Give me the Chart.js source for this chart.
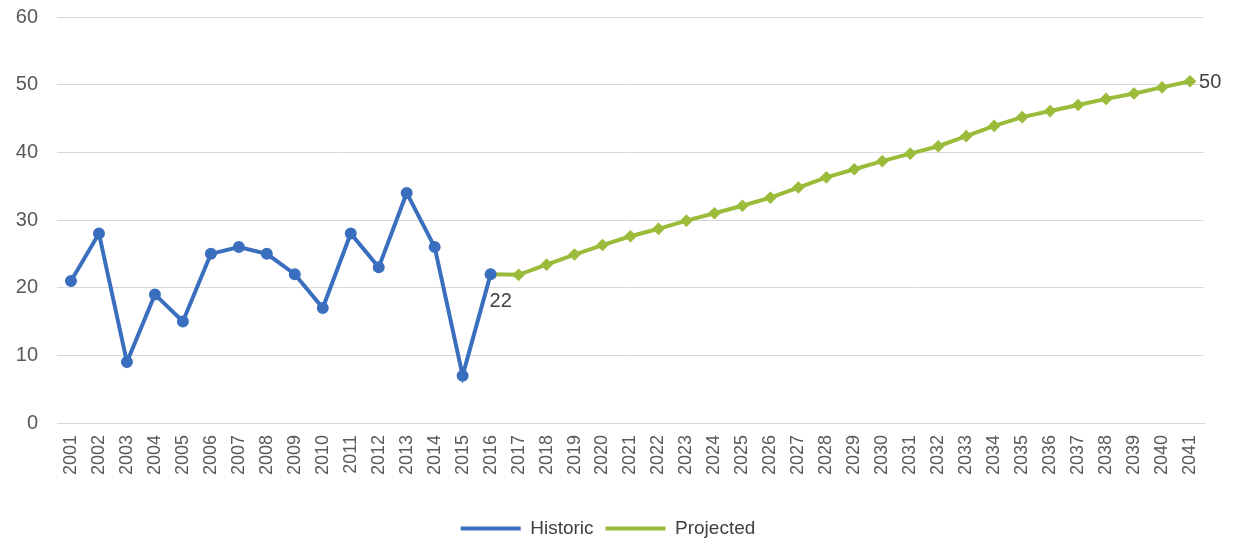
<!DOCTYPE html>
<html>
<head>
<meta charset="utf-8">
<script src="https://cdn.jsdelivr.net/npm/chart.js@4/dist/chart.umd.min.js"></script>
<style>
  html, body { margin: 0; padding: 0; background: #fff; }
  #wrap { width: 1233px; height: 558px; position: relative; }
</style>
</head>
<body>
<div id="wrap"><canvas id="grafico"></canvas></div>
<script>
let ctx = document.getElementById('grafico')

// anos 2001 - 2041
const years = ['2001','2002','2003','2004','2005','2006','2007','2008','2009','2010',
  '2011','2012','2013','2014','2015','2016','2017','2018','2019','2020',
  '2021','2022','2023','2024','2025','2026','2027','2028','2029','2030',
  '2031','2032','2033','2034','2035','2036','2037','2038','2039','2040','2041']

const historic = [21, 28, 9, 19, 15, 25, 26, 25, 22, 17, 28, 23, 34, 26, 7, 22]

// projeção começa em 2016
const projected = [22, 21.9, 23.4, 24.9, 26.3, 27.6, 28.7, 29.9, 31.0, 32.1,
  33.3, 34.8, 36.3, 37.5, 38.7, 39.8, 40.9, 42.4, 43.9, 45.2,
  46.1, 47.0, 47.9, 48.7, 49.6, 50.5]

const yTicks = [0, 10, 20, 30, 40, 50, 60]

const histData = years.map((y, i) => i < historic.length ? historic[i] : null)
const projStart = years.indexOf('2016')
const projData = years.map((y, i) => i >= projStart ? projected[i - projStart] : null)

Chart.defaults.font.family = '"Liberation Sans", Arial, sans-serif'
Chart.defaults.color = '#595959'

// rótulos "22" e "50"
const valueLabels = {
  id: 'valueLabels',
  afterDatasetsDraw(chart) {
    const c = chart.ctx
    c.save()
    c.font = '20px "Liberation Sans", Arial, sans-serif'
    c.fillStyle = '#404040'
    const h = chart.getDatasetMeta(0).data[historic.length - 1]
    c.textAlign = 'left'
    c.textBaseline = 'top'
    c.fillText('22', h.x - 1, h.y + 17)
    const pm = chart.getDatasetMeta(1).data
    const last = pm[pm.length - 1]
    c.textBaseline = 'middle'
    c.fillText('50', last.x + 9, last.y + 1)
    c.restore()
  }
}

const data = {
  labels: years,
  datasets: [{
    label: 'Historic',
    data: histData,
    borderColor: '#3a6ebe',
    backgroundColor: '#3a6ebe',
    borderWidth: 4,
    pointRadius: 4,
    pointStyle: 'circle',
    tension: 0
  }, {
    label: 'Projected',
    data: projData,
    borderColor: '#9bbb3a',
    backgroundColor: '#9bbb3a',
    borderWidth: 4,
    pointRadius: 3.5,
    pointStyle: 'rectRot',
    tension: 0
  }]
}

const config = {
  type: 'line',
  data,
  plugins: [valueLabels],
  options: {
    responsive: true,
    maintainAspectRatio: false,
    animation: false,
    layout: { padding: { left: 12, right: 29, top: 17, bottom: 10 } },
    scales: {
      y: {
        min: 0,
        max: 60,
        afterBuildTicks: (axis) => { axis.ticks = yTicks.map(v => ({ value: v })) },
        afterFit: (axis) => { axis.width = 45; axis.paddingTop = 0; axis.paddingBottom = 0 },
        grid: { color: '#d9d9d9', lineWidth: 1, drawTicks: false },
        border: { display: false },
        ticks: { font: { size: 20 }, padding: 19 }
      },
      x: {
        offset: true,
        afterFit: (axis) => { axis.height = 84 },
        grid: { display: false },
        border: { color: '#d9d9d9' },
        ticks: { font: { size: 18 }, minRotation: 90, maxRotation: 90, autoSkip: false, padding: 4 }
      }
    },
    plugins: {
      legend: {
        position: 'bottom',
        labels: {
          usePointStyle: true,
          pointStyle: 'line',
          pointStyleWidth: 60,
          font: { size: 19 },
          color: '#404040',
          padding: 12
        }
      },
      tooltip: { enabled: false }
    }
  }
}

const graph = new Chart(ctx, config)
</script>
</body>
</html>
